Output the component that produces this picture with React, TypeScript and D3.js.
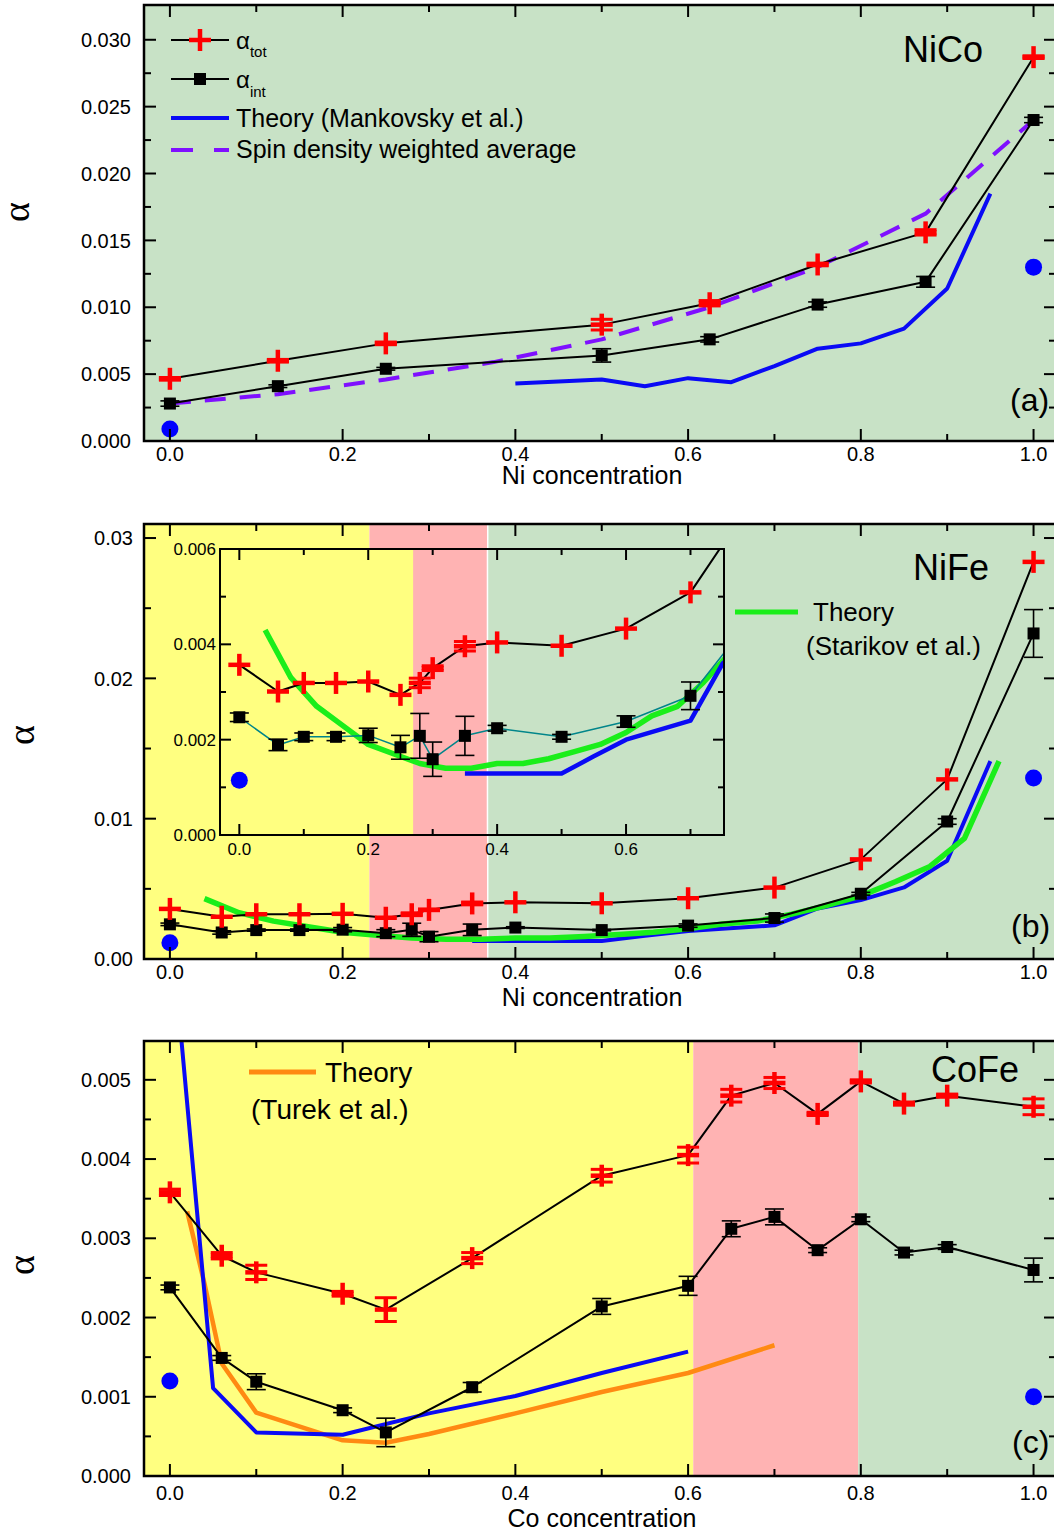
import React from 'react';
import * as d3 from 'd3';

// ---- data: NiCo (a) ----
const NICO_X = [0, 0.125, 0.25, 0.5, 0.625, 0.75, 0.875, 1.0];
const NICO_TOT = [0.00465, 0.006, 0.0073, 0.0087, 0.0103, 0.0132, 0.0156, 0.0287];
const NICO_TOT_ERR = [0.0001, 0.0001, 0.0001, 0.0004, 0.0002, 0.0001, 0.0002, 0.0001];
const NICO_INT = [0.0028, 0.0041, 0.0054, 0.0064, 0.0076, 0.0102, 0.0119, 0.024];
const NICO_INT_ERR = [0.0002, 0.0001, 0.0001, 0.0005, 0.0002, 0.0002, 0.0004, 0.0002];
const NICO_THEORY_X = [0.4, 0.5, 0.55, 0.6, 0.65, 0.7, 0.75, 0.8, 0.85, 0.9, 0.95];
const NICO_THEORY = [0.0043, 0.0046, 0.0041, 0.0047, 0.0044, 0.0056, 0.0069, 0.0073, 0.0084, 0.0114, 0.0185];
const NICO_SPIN_X = [0, 0.125, 0.25, 0.375, 0.5, 0.625, 0.75, 0.875, 1.0];
const NICO_SPIN = [0.0028, 0.0035, 0.0046, 0.0059, 0.0076, 0.01, 0.013, 0.017, 0.024];
const NICO_CALC_X = [0, 1];
const NICO_CALC = [0.0009, 0.013];

// ---- data: NiFe (b) ----
const NIFE_X = [0, 0.06, 0.1, 0.15, 0.2, 0.25, 0.28, 0.3, 0.35, 0.4, 0.5, 0.6, 0.7, 0.8, 0.9, 1.0];
const NIFE_TOT = [0.00357, 0.00301, 0.00319, 0.00319, 0.00322, 0.00294, 0.00319, 0.0035, 0.00396, 0.00404, 0.00397, 0.00433, 0.00509, 0.0071, 0.0128, 0.0283];
const NIFE_TOT_ERR = [0, 0, 0, 0, 0, 0, 0.0001, 0.00005, 0.0001, 0, 0, 0, 0, 0, 0, 0];
const NIFE_INT = [0.00247, 0.00189, 0.00206, 0.00206, 0.00209, 0.00184, 0.00208, 0.00159, 0.00208, 0.00224, 0.00206, 0.00238, 0.00292, 0.00465, 0.0098, 0.0232];
const NIFE_INT_ERR = [0.00009, 0.00012, 0.00008, 0.00008, 0.00015, 0.00025, 0.00047, 0.00036, 0.00041, 0.00006, 0.00005, 0.00012, 0.00029, 0.0001, 0.0002, 0.0017];
const NIFE_THEORY_X = [0.35, 0.4, 0.5, 0.55, 0.6, 0.7, 0.75, 0.8, 0.85, 0.9, 0.95];
const NIFE_THEORY = [0.00129, 0.00129, 0.00129, 0.00165, 0.002, 0.0024, 0.0036, 0.0042, 0.0051, 0.007, 0.0141];
const NIFE_STARIKOV_X = [0.04, 0.08, 0.12, 0.16, 0.2, 0.24, 0.28, 0.32, 0.36, 0.4, 0.44, 0.48, 0.52, 0.56, 0.6, 0.64, 0.68, 0.72, 0.76, 0.8, 0.84, 0.88, 0.92, 0.96];
const NIFE_STARIKOV = [0.0043, 0.0033, 0.0027, 0.0023, 0.0019, 0.0017, 0.0015, 0.0014, 0.0014, 0.0015, 0.0015, 0.0016, 0.00175, 0.0019, 0.00215, 0.0025, 0.0027, 0.0032, 0.0038, 0.0045, 0.0055, 0.0066, 0.0086, 0.0141];
const NIFE_CALC_X = [0, 1];
const NIFE_CALC = [0.00115, 0.0129];

// ---- data: CoFe (c) ----
const COFE_X = [0, 0.06, 0.1, 0.2, 0.25, 0.35, 0.5, 0.6, 0.65, 0.7, 0.75, 0.8, 0.85, 0.9, 1.0];
const COFE_TOT = [0.00358, 0.00278, 0.00257, 0.0023, 0.0021, 0.00275, 0.00379, 0.00405, 0.0048, 0.00496, 0.00457, 0.00498, 0.0047, 0.0048, 0.00466];
const COFE_TOT_ERR = [0.00004, 0.00004, 0.00009, 0.00003, 0.00015, 0.00007, 0.00008, 0.0001, 0.00008, 0.00007, 0.00002, 0.00002, 0.00002, 0.00002, 0.0001];
const COFE_INT = [0.00238, 0.00149, 0.00119, 0.00083, 0.00055, 0.00112, 0.00214, 0.0024, 0.00312, 0.00327, 0.00285, 0.00324, 0.00282, 0.00289, 0.0026];
const COFE_INT_ERR = [0.00003, 0.00003, 0.0001, 0.00003, 0.00018, 0.00006, 0.0001, 0.00012, 0.0001, 0.0001, 0.00003, 0.00003, 0.00003, 0.00003, 0.00015];
const COFE_THEORY_X = [0.01, 0.05, 0.1, 0.2, 0.3, 0.4, 0.5, 0.6];
const COFE_THEORY = [0.0059, 0.00111, 0.00055, 0.00052, 0.00079, 0.00101, 0.0013, 0.00157];
const COFE_TUREK_X = [0.02, 0.04, 0.06, 0.1, 0.2, 0.25, 0.3, 0.4, 0.5, 0.6, 0.7];
const COFE_TUREK = [0.00334, 0.00243, 0.00142, 0.0008, 0.00045, 0.00042, 0.00053, 0.00079, 0.00106, 0.0013, 0.00165];
const COFE_CALC_X = [0, 1];
const COFE_CALC = [0.0012, 0.001];

// ---- ticks ----
const X_MAJOR = [0, 0.2, 0.4, 0.6, 0.8, 1.0];
const X_MINOR = [0.1, 0.3, 0.5, 0.7, 0.9];
const A_Y_MAJOR = [0, 0.005, 0.01, 0.015, 0.02, 0.025, 0.03];
const A_Y_MINOR = [0.0025, 0.0075, 0.0125, 0.0175, 0.0225, 0.0275];
const B_Y_MAJOR = [0, 0.01, 0.02, 0.03];
const B_Y_MINOR = [0.005, 0.015, 0.025];
const C_Y_MAJOR = [0, 0.001, 0.002, 0.003, 0.004, 0.005];
const C_Y_MINOR = [0.0005, 0.0015, 0.0025, 0.0035, 0.0045];
const INSET_X_MAJOR = [0, 0.2, 0.4, 0.6];
const INSET_X_MINOR = [0.1, 0.3, 0.5, 0.7];
const INSET_Y_MAJOR = [0, 0.002, 0.004, 0.006];
const INSET_Y_MINOR = [0.001, 0.003, 0.005];

// ---- phase bands (bcc / mixed / fcc) ----
const B_BANDS = [[-0.1, 0.231], [0.231, 0.368], [0.368, 1.1]];
const C_BANDS = [[-0.1, 0.606], [0.606, 0.797], [0.797, 1.1]];
const INSET_BANDS = [[-0.1, 0.27], [0.27, 0.385], [0.385, 1.0]];

const COL = {
  green: '#c8e2c6', yellow: '#ffff80', pink: '#ffb3b3',
  red: '#ff0000', blue: '#0a0af5', lime: '#1aee1a', orange: '#ff8a12',
  purple: '#7f10ff', teal: '#00858a',
};
const BAND_FILLS = [COL.yellow, COL.pink, COL.green];
const SANS = '"Liberation Sans", Arial, sans-serif';
const SERIF = '"Liberation Serif", "Times New Roman", serif';

const LEFT = 144, RIGHT = 1056;
const X_DOMAIN: [number, number] = [-0.03, 1.026];

type Scale = d3.ScaleLinear<number, number>;

function Curve({ x, y, xs, ys, color, width, dash }: any) {
  const line = d3.line<number>().x((d, i) => x(xs[i])).y(d => y(d));
  return <path d={line(ys) || ''} fill="none" stroke={color} strokeWidth={width}
    strokeDasharray={dash} strokeLinejoin="round" />;
}

function ErrorBars({ x, y, xs, ys, errs, color, width, cap }: any) {
  return <g stroke={color} strokeWidth={width}>
    {xs.map((v: number, i: number) => {
      if (!errs[i]) return null;
      const cx = x(v), lo = y(ys[i] - errs[i]), hi = y(ys[i] + errs[i]);
      return <g key={i}>
        <line x1={cx} x2={cx} y1={lo} y2={hi} />
        <line x1={cx - cap / 2} x2={cx + cap / 2} y1={lo} y2={lo} />
        <line x1={cx - cap / 2} x2={cx + cap / 2} y1={hi} y2={hi} />
      </g>;
    })}
  </g>;
}

function Pluses({ x, y, xs, ys, size = 11 }: any) {
  return <g stroke={COL.red} strokeWidth={4.5}>
    {xs.map((v: number, i: number) => {
      const cx = x(v), cy = y(ys[i]);
      return <g key={i}>
        <line x1={cx - size} x2={cx + size} y1={cy} y2={cy} />
        <line x1={cx} x2={cx} y1={cy - size} y2={cy + size} />
      </g>;
    })}
  </g>;
}

function Squares({ x, y, xs, ys, size = 12 }: any) {
  return <g fill="#000">
    {xs.map((v: number, i: number) =>
      <rect key={i} x={x(v) - size / 2} y={y(ys[i]) - size / 2} width={size} height={size} />)}
  </g>;
}

function Dots({ x, y, xs, ys }: any) {
  return <g fill="#0000ff">
    {xs.map((v: number, i: number) => <circle key={i} cx={x(v)} cy={y(ys[i])} r={8.5} />)}
  </g>;
}

function Bands({ x, y, bands, edge }: any) {
  const [b, t] = y.range();
  return <g>
    {bands.map((d: number[], i: number) =>
      <rect key={i} x={x(d[0])} y={t} width={x(d[1]) - x(d[0])} height={b - t} fill={BAND_FILLS[i]} />)}
    {edge && <line x1={x(bands[2][0])} x2={x(bands[2][0])} y1={t} y2={b} stroke="#fff" strokeWidth={1.5} />}
  </g>;
}

function Frame({ x, y, xMajor, xMinor, yMajor, yMinor, xFmt, yFmt, font, xLabelDy, yLabelX, major = 12, minor = 7, stroke = 2.5 }: any) {
  const [x0, x1] = x.range();
  const [y0, y1] = y.range();
  const xt = (v: number, len: number, k: string) => <g key={k}>
    <line x1={x(v)} x2={x(v)} y1={y0} y2={y0 - len} />
    <line x1={x(v)} x2={x(v)} y1={y1} y2={y1 + len} />
  </g>;
  const yt = (v: number, len: number, k: string) => <g key={k}>
    <line x1={x0} x2={x0 + len} y1={y(v)} y2={y(v)} />
    <line x1={x1} x2={x1 - len} y1={y(v)} y2={y(v)} />
  </g>;
  return <g>
    <g stroke="#000" strokeWidth={2}>
      {xMajor.map((v: number, i: number) => xt(v, major, 'xM' + i))}
      {xMinor.map((v: number, i: number) => xt(v, minor, 'xm' + i))}
      {yMajor.map((v: number, i: number) => yt(v, major, 'yM' + i))}
      {yMinor.map((v: number, i: number) => yt(v, minor, 'ym' + i))}
    </g>
    <rect x={x0} y={y1} width={x1 - x0} height={y0 - y1} fill="none" stroke="#000" strokeWidth={stroke} />
    <g fontFamily={SANS} fontSize={font} fill="#000">
      {xMajor.map((v: number, i: number) =>
        <text key={'xl' + i} x={x(v)} y={y0 + xLabelDy} textAnchor="middle">{xFmt(v)}</text>)}
      {yMajor.map((v: number, i: number) =>
        <text key={'yl' + i} x={yLabelX} y={y(v)} dy="0.36em" textAnchor="end">{yFmt(v)}</text>)}
    </g>
  </g>;
}

function ClipRect({ id, x, y }: { id: string; x: Scale; y: Scale }) {
  const [x0, x1] = x.range();
  const [y0, y1] = y.range();
  return <clipPath id={id}><rect x={x0} y={y1} width={x1 - x0} height={y0 - y1} /></clipPath>;
}

function Measured({ x, y, xs, tot, totErr, int, intErr, intColor = '#000', intWidth = 2 }: any) {
  return <g>
    <Curve x={x} y={y} xs={xs} ys={tot} color="#000" width={2} />
    <Curve x={x} y={y} xs={xs} ys={int} color={intColor} width={intWidth} />
    <ErrorBars x={x} y={y} xs={xs} ys={int} errs={intErr} color="#000" width={1.6} cap={19} />
    <Squares x={x} y={y} xs={xs} ys={int} />
    <ErrorBars x={x} y={y} xs={xs} ys={tot} errs={totErr} color={COL.red} width={3} cap={22} />
    <Pluses x={x} y={y} xs={xs} ys={tot} />
  </g>;
}

function YTitle({ x, y }: { x: number; y: number }) {
  return <text transform={`translate(${x},${y}) rotate(-90)`} textAnchor="middle"
    fontFamily={SERIF} fontSize={38}>α</text>;
}

const fx = d3.format('.1f');
const f3 = d3.format('.3f');
const f2 = d3.format('.2f');

function PanelA() {
  const x = d3.scaleLinear().domain(X_DOMAIN).range([LEFT, RIGHT]);
  const y = d3.scaleLinear().domain([0, 0.0326]).range([441, 5]);
  const [b, t] = y.range();
  return <g>
    <defs><ClipRect id="clip-a" x={x} y={y} /></defs>
    <rect x={LEFT} y={t} width={RIGHT - LEFT} height={b - t} fill={COL.green} />
    <g clipPath="url(#clip-a)">
      <Curve x={x} y={y} xs={NICO_THEORY_X} ys={NICO_THEORY} color={COL.blue} width={4} />
      <Curve x={x} y={y} xs={NICO_SPIN_X} ys={NICO_SPIN} color={COL.purple} width={4} dash="21 14" />
      <Measured x={x} y={y} xs={NICO_X} tot={NICO_TOT} totErr={NICO_TOT_ERR} int={NICO_INT} intErr={NICO_INT_ERR} />
      <Dots x={x} y={y} xs={NICO_CALC_X} ys={NICO_CALC} />
    </g>
    {/* legend */}
    <g fontFamily={SANS} fill="#000">
      <line x1={171} x2={229} y1={40} y2={40} stroke="#000" strokeWidth={2} />
      <g stroke={COL.red} strokeWidth={4.5}>
        <line x1={189} x2={211} y1={40} y2={40} /><line x1={200} x2={200} y1={29} y2={51} />
      </g>
      <text x={236} y={49} fontSize={24}>α<tspan fontSize={15} dy={8}>tot</tspan></text>
      <line x1={171} x2={229} y1={79} y2={79} stroke="#000" strokeWidth={2} />
      <rect x={194} y={73} width={12} height={12} fill="#000" />
      <text x={236} y={88} fontSize={24}>α<tspan fontSize={15} dy={9}>int</tspan></text>
      <line x1={171} x2={229} y1={118} y2={118} stroke={COL.blue} strokeWidth={4} />
      <text x={236} y={127} fontSize={25}>Theory (Mankovsky et al.)</text>
      <line x1={171} x2={229} y1={150} y2={150} stroke={COL.purple} strokeWidth={4} strokeDasharray="22 21" />
      <text x={236} y={158} fontSize={25}>Spin density weighted average</text>
      <text x={903} y={62} fontSize={36}>NiCo</text>
      <text x={1010} y={411} fontSize={32}>(a)</text>
    </g>
    <Frame x={x} y={y} xMajor={X_MAJOR} xMinor={X_MINOR} yMajor={A_Y_MAJOR} yMinor={A_Y_MINOR}
      xFmt={fx} yFmt={f3} font={20} xLabelDy={20} yLabelX={131} />
    <text x={592} y={484} textAnchor="middle" fontFamily={SANS} fontSize={25}>Ni concentration</text>
    <YTitle x={29} y={212} />
  </g>;
}

function Inset() {
  const x = d3.scaleLinear().domain([-0.03, 0.752]).range([220, 724]);
  const y = d3.scaleLinear().domain([0, 0.006]).range([835, 549]);
  return <g>
    <defs><ClipRect id="clip-inset" x={x} y={y} /></defs>
    <g clipPath="url(#clip-inset)">
      <Bands x={x} y={y} bands={INSET_BANDS} edge />
      <Curve x={x} y={y} xs={NIFE_STARIKOV_X} ys={NIFE_STARIKOV} color={COL.lime} width={5.5} />
      <Curve x={x} y={y} xs={NIFE_THEORY_X} ys={NIFE_THEORY} color={COL.blue} width={4.5} />
      <Measured x={x} y={y} xs={NIFE_X} tot={NIFE_TOT} totErr={NIFE_TOT_ERR} int={NIFE_INT} intErr={NIFE_INT_ERR}
        intColor={COL.teal} intWidth={1.5} />
      <Dots x={x} y={y} xs={NIFE_CALC_X} ys={NIFE_CALC} />
    </g>
    <Frame x={x} y={y} xMajor={INSET_X_MAJOR} xMinor={INSET_X_MINOR} yMajor={INSET_Y_MAJOR} yMinor={INSET_Y_MINOR}
      xFmt={fx} yFmt={f3} font={17} xLabelDy={20} yLabelX={216} major={11} minor={6} stroke={2} />
  </g>;
}

function PanelB() {
  const x = d3.scaleLinear().domain(X_DOMAIN).range([LEFT, RIGHT]);
  const y = d3.scaleLinear().domain([0, 0.031]).range([959, 524]);
  return <g>
    <defs><ClipRect id="clip-b" x={x} y={y} /></defs>
    <g clipPath="url(#clip-b)">
      <Bands x={x} y={y} bands={B_BANDS} edge />
      <Curve x={x} y={y} xs={NIFE_THEORY_X} ys={NIFE_THEORY} color={COL.blue} width={4} />
      <Curve x={x} y={y} xs={NIFE_STARIKOV_X} ys={NIFE_STARIKOV} color={COL.lime} width={5.5} />
      <Measured x={x} y={y} xs={NIFE_X} tot={NIFE_TOT} totErr={NIFE_TOT_ERR} int={NIFE_INT} intErr={NIFE_INT_ERR} />
      <Dots x={x} y={y} xs={NIFE_CALC_X} ys={NIFE_CALC} />
    </g>
    <Inset />
    <g fontFamily={SANS} fill="#000">
      <line x1={735} x2={798} y1={612} y2={612} stroke={COL.lime} strokeWidth={5} />
      <text x={813} y={621} fontSize={26}>Theory</text>
      <text x={806} y={655} fontSize={26}>(Starikov et al.)</text>
      <text x={913} y={580} fontSize={36}>NiFe</text>
      <text x={1011} y={937} fontSize={32}>(b)</text>
    </g>
    <Frame x={x} y={y} xMajor={X_MAJOR} xMinor={X_MINOR} yMajor={B_Y_MAJOR} yMinor={B_Y_MINOR}
      xFmt={fx} yFmt={f2} font={20} xLabelDy={20} yLabelX={133} />
    <text x={592} y={1006} textAnchor="middle" fontFamily={SANS} fontSize={25}>Ni concentration</text>
    <YTitle x={34} y={735} />
  </g>;
}

function PanelC() {
  const x = d3.scaleLinear().domain(X_DOMAIN).range([LEFT, RIGHT]);
  const y = d3.scaleLinear().domain([0, 0.00549]).range([1476, 1041]);
  return <g>
    <defs><ClipRect id="clip-c" x={x} y={y} /></defs>
    <g clipPath="url(#clip-c)">
      <Bands x={x} y={y} bands={C_BANDS} />
      <Curve x={x} y={y} xs={COFE_TUREK_X} ys={COFE_TUREK} color={COL.orange} width={4.5} />
      <Curve x={x} y={y} xs={COFE_THEORY_X} ys={COFE_THEORY} color={COL.blue} width={4} />
      <Measured x={x} y={y} xs={COFE_X} tot={COFE_TOT} totErr={COFE_TOT_ERR} int={COFE_INT} intErr={COFE_INT_ERR} />
      <Dots x={x} y={y} xs={COFE_CALC_X} ys={COFE_CALC} />
    </g>
    <g fontFamily={SANS} fill="#000">
      <line x1={249} x2={316} y1={1072} y2={1072} stroke={COL.orange} strokeWidth={5} />
      <text x={325} y={1082} fontSize={28}>Theory</text>
      <text x={251} y={1119} fontSize={28}>(Turek et al.)</text>
      <text x={931} y={1082} fontSize={36}>CoFe</text>
      <text x={1012} y={1453} fontSize={32}>(c)</text>
    </g>
    <Frame x={x} y={y} xMajor={X_MAJOR} xMinor={X_MINOR} yMajor={C_Y_MAJOR} yMinor={C_Y_MINOR}
      xFmt={fx} yFmt={f3} font={20} xLabelDy={24} yLabelX={131} />
    <text x={602} y={1527} textAnchor="middle" fontFamily={SANS} fontSize={25}>Co concentration</text>
    <YTitle x={34} y={1265} />
  </g>;
}

export default function App() {
  return (
    <svg width={1054} height={1535} style={{ position: 'absolute', left: 0, top: 0, background: '#fff' }}>
      <PanelA />
      <PanelB />
      <PanelC />
    </svg>
  );
}
